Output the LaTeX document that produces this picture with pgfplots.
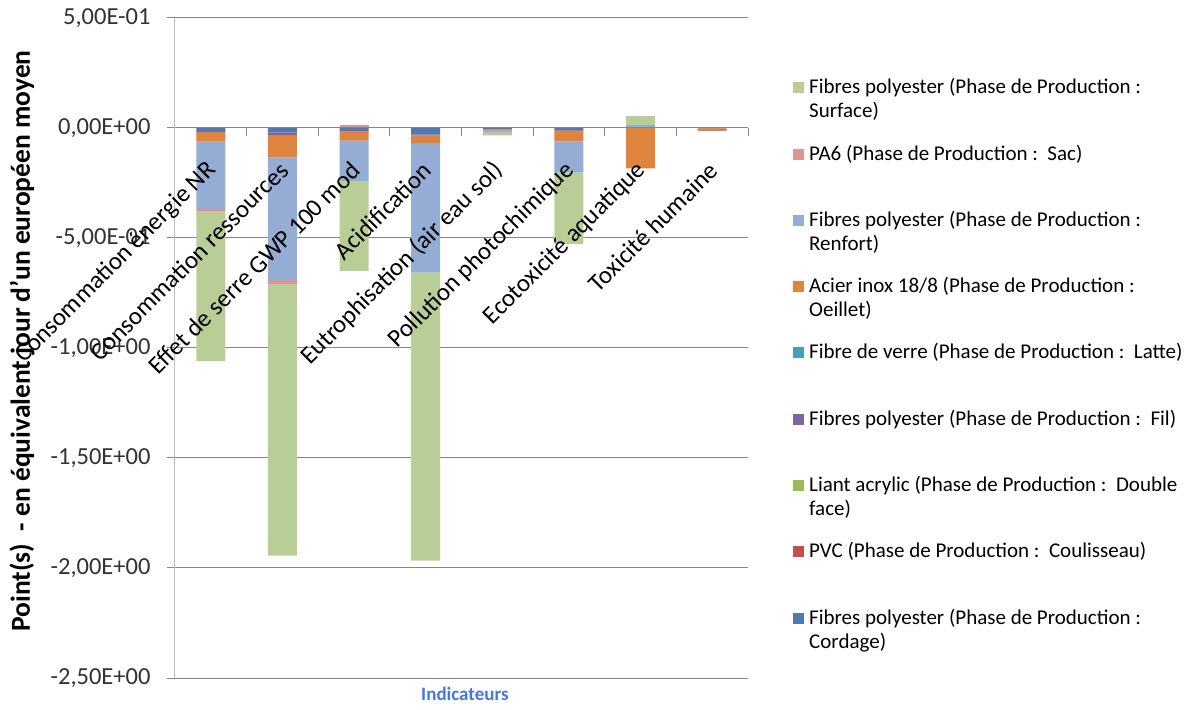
\documentclass[border=0pt]{standalone}
\usepackage{fontspec}
\setmainfont{Carlito}
\usepackage{pgfplots}
\usepackage{pgfplotstable}
\pgfplotsset{compat=1.18}
\pgfplotsset{base/.style={at={(0pt,0pt)}, anchor=south west,
  scale only axis, width=573pt, height=660pt,
  xmin=-0.5, xmax=7.5, ymin=-2.5, ymax=0.5}}
\definecolor{cSurf}{RGB}{185,206,150}
\definecolor{cPA}{RGB}{217,150,148}
\definecolor{cRenf}{RGB}{149,172,212}
\definecolor{cAcier}{RGB}{222,132,60}
\definecolor{cVerre}{RGB}{75,158,186}
\definecolor{cFil}{RGB}{128,100,162}
\definecolor{cLiant}{RGB}{155,187,89}
\definecolor{cPVC}{RGB}{192,80,77}
\definecolor{cCord}{RGB}{79,120,180}
\definecolor{gridgray}{RGB}{134,134,134}
\definecolor{axgray}{RGB}{190,190,190}
\definecolor{labgray}{RGB}{50,50,50}
\definecolor{xlabblue}{RGB}{70,120,220}

% negative contributions (stacked downward from zero)
\pgfplotstableread{
x Cord PVC Liant Fil Verre Acier Renf PA Surf
0 -0.013 -0.001 0 -0.004 0 -0.044 -0.307 -0.011 -0.680
1 -0.021 -0.002 0 -0.008 0 -0.103 -0.556 -0.018 -1.236
2 -0.009 -0.001 0 -0.006 0 -0.041 -0.183 0      -0.409
3 -0.030 -0.001 0 -0.003 0 -0.035 -0.588 0      -1.310
4 -0.005 0      0 -0.001 0 -0.006 -0.009 0      -0.012
5 -0.009 -0.001 0 -0.002 0 -0.049 -0.142 0      -0.324
6 0      0      0 0      0 -0.183 0      0      0
7 -0.002 0      0 0      0 -0.011 0      0      0
}\negdata
% positive contributions (stacked upward from zero)
\pgfplotstableread{
x Renf PA Surf
0 0     0     0
1 0     0     0
2 0     0.014 0
3 0     0     0
4 0     0     0
5 0     0     0
6 0.014 0     0.041
7 0     0     0
}\posdata

\newcommand{\legtxt}[2]{\parbox[t]{375pt}{\strut #1\\\strut #2}}

\begin{document}
\begin{tikzpicture}
% grid (below the bars)
\begin{axis}[base,
  ytick={-2.5,-2,-1.5,-1,-0.5,0,0.5}, yticklabels={}, xtick=\empty,
  ymajorgrids, major grid style={draw=gridgray, line width=1pt},
  axis line style={draw=none}, major tick length=0pt,
]
\end{axis}
% positive parts
\begin{axis}[base, hide axis, ybar stacked, bar width=29pt]
\addplot[fill=cRenf, draw=none] table[x=x, y=Renf]{\posdata};
\addplot[fill=cPA, draw=none] table[x=x, y=PA]{\posdata};
\addplot[fill=cSurf, draw=none] table[x=x, y=Surf]{\posdata};
\end{axis}
% negative parts
\begin{axis}[base, hide axis, ybar stacked, bar width=29pt]
\addplot[fill=cCord, draw=none] table[x=x, y=Cord]{\negdata};
\addplot[fill=cPVC, draw=none] table[x=x, y=PVC]{\negdata};
\addplot[fill=cLiant, draw=none] table[x=x, y=Liant]{\negdata};
\addplot[fill=cFil, draw=none] table[x=x, y=Fil]{\negdata};
\addplot[fill=cVerre, draw=none] table[x=x, y=Verre]{\negdata};
\addplot[fill=cAcier, draw=none] table[x=x, y=Acier]{\negdata};
\addplot[fill=cRenf, draw=none] table[x=x, y=Renf]{\negdata};
\addplot[fill=cPA, draw=none] table[x=x, y=PA]{\negdata};
\addplot[fill=cSurf, draw=none] table[x=x, y=Surf]{\negdata};
\end{axis}
% axes, tick labels, legend (on top of the bars)
\begin{axis}[base,
  axis y line*=left, axis x line*=middle,
  x axis line style={draw=gridgray, line width=1pt},
  y axis line style={draw=axgray, line width=1pt},
  ytick={-2.5,-2,-1.5,-1,-0.5,0,0.5},
  yticklabels={{-2,50E+00},{-2,00E+00},{-1,50E+00},{-1,00E+00},{-5,00E-01},{0,00E+00},{5,00E-01}},
  yticklabel style={xshift=-13pt, font=\fontsize{24.5}{28}\selectfont, text=labgray},
  tick align=outside, major tick length=8pt,
  tick style={draw=gridgray, line width=1pt},
  xtick={-0.5,0.5,...,7.5}, xticklabels={},
  extra x ticks={0,1,2,3,4,5,6,7},
  extra x tick labels={Consommation énergie NR, Consommation ressources, Effet de serre GWP 100 mod, Acidification, Eutrophisation (air eau sol), Pollution photochimique, Ecotoxicité aquatique, Toxicité humaine},
  extra x tick style={major tick length=0pt, xticklabel style={yshift=-36pt, xshift=4pt, rotate=45, anchor=east, font=\fontsize{25}{29}\selectfont, text=black}},
  xlabel={Indicateurs},
  xlabel style={at={(axis description cs:0.506,-0.024)}, anchor=center, font=\bfseries\fontsize{19}{22}\selectfont, text=xlabblue},
  ylabel={Point(s)\ \ - en équivalent jour d'un européen moyen},
  ylabel style={at={(axis description cs:-0.267,0.5106)}, anchor=center, font=\bfseries\fontsize{27.5}{32}\selectfont},
  legend image code/.code={\fill[#1] (0pt,0.5pt) rectangle (11pt,11.5pt);},
  legend style={draw=none, fill=none, inner sep=0pt, row sep=44pt, column sep=3pt,
    font=\fontsize{21}{24}\selectfont, cells={anchor=base west},
    at={(1.0785,0.914)}, anchor=north west},
]
\addlegendimage{fill=cSurf, draw=none}
\addlegendentry{\legtxt{Fibres polyester (Phase de Production :}{Surface)}}
\addlegendimage{fill=cPA, draw=none}
\addlegendentry{\legtxt{PA6 (Phase de Production :\ \ Sac)}{}}
\addlegendimage{fill=cRenf, draw=none}
\addlegendentry{\legtxt{Fibres polyester (Phase de Production :}{Renfort)}}
\addlegendimage{fill=cAcier, draw=none}
\addlegendentry{\legtxt{Acier inox 18/8 (Phase de Production :}{Oeillet)}}
\addlegendimage{fill=cVerre, draw=none}
\addlegendentry{\legtxt{Fibre de verre (Phase de Production :\ \ Latte)}{}}
\addlegendimage{fill=cFil, draw=none}
\addlegendentry{\legtxt{Fibres polyester (Phase de Production :\ \ Fil)}{}}
\addlegendimage{fill=cLiant, draw=none}
\addlegendentry{\legtxt{Liant acrylic (Phase de Production :\ \ Double}{face)}}
\addlegendimage{fill=cPVC, draw=none}
\addlegendentry{\legtxt{PVC (Phase de Production :\ \ Coulisseau)}{}}
\addlegendimage{fill=cCord, draw=none}
\addlegendentry{\legtxt{Fibres polyester (Phase de Production :}{Cordage)}}
\end{axis}
\pgfresetboundingbox
\path (-175pt,-31pt) rectangle (1018pt,678pt);
\end{tikzpicture}
\end{document}
